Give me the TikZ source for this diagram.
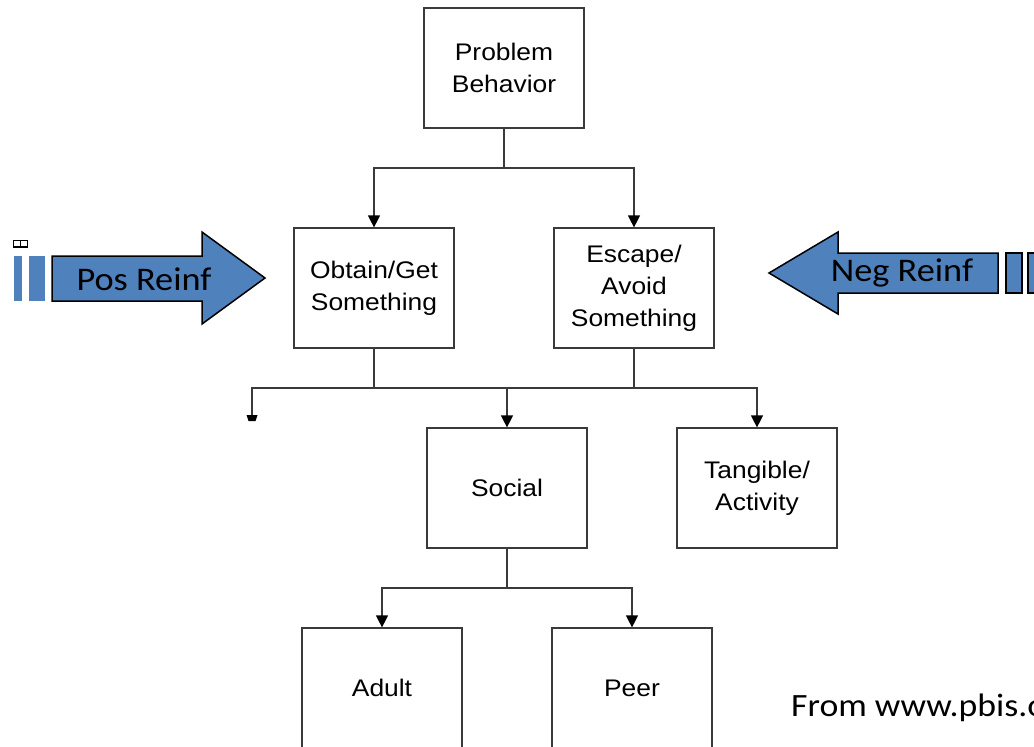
\documentclass[tikz,border=0pt]{standalone}
\usepackage{fontspec}
\setmainfont[FakeStretch=1.1]{Liberation Sans}
\newfontfamily\calib[FakeStretch=1.1]{Carlito}
\usetikzlibrary{arrows.meta}
\definecolor{boxgray}{HTML}{3A3A3A}
\definecolor{linegray}{HTML}{3A3A3A}
\definecolor{reinfblue}{HTML}{4F81BD}
\tikzset{
  box/.style={draw=boxgray, line width=1.2pt, minimum width=160pt, minimum height=120pt,
    inner sep=0pt, align=center, font=\fontsize{24}{32}\selectfont},
  conn/.style={draw=linegray, line width=1.2pt},
  arr/.style={conn, -{Triangle[width=12pt,length=12pt,color=black]}},
  blockarrow/.style={fill=reinfblue, draw=black, line width=1.5pt, line join=miter},
  bar/.style={fill=reinfblue},
  reinf/.style={font=\calib\fontsize{33}{40}\selectfont, inner sep=0pt},
}
\begin{document}
\begin{tikzpicture}[x=1pt,y=-1pt]
\useasboundingbox (0,0) rectangle (1034,747);
\clip (0,0) rectangle (1034,747);
\fill[white] (0,0) rectangle (1034,747);

% boxes
\node[box] (pb)  at (504,68)  {Problem\\Behavior};
\node[box] (obt) at (374,288) {Obtain/Get\\Something};
\node[box] (esc) at (634,288) {Escape/\\Avoid\\Something};
\node[box] (soc) at (507,488) {Social};
\node[box] (tan) at (757,488) {Tangible/\\Activity};
\node[box] (adu) at (382,688) {Adult};
\node[box] (pee) at (632,688) {Peer};

% level 1 connectors
\coordinate (j1) at (504,168);
\draw[conn] (pb.south) -- (j1);
\draw[arr] (j1) -| (obt.north);
\draw[arr] (j1) -| (esc.north);

% level 2 connectors
\coordinate (h2) at (507,388);
\coordinate (cutl) at (252,415);
\draw[conn] (obt.south) -- (obt.south |- h2);
\draw[conn] (esc.south) -- (esc.south |- h2);
\draw[conn] (obt.south |- h2) -- (esc.south |- h2);
\draw[arr] (obt.south |- h2) -| (soc.north);
\draw[arr] (esc.south |- h2) -| (tan.north);
\draw[conn] (obt.south |- h2) -| (cutl);
\fill[black] (246.5,415) -- (257.5,415) -- (255.5,421) -- (248.5,421) -- cycle;

% level 3 connectors
\coordinate (j3) at (507,588);
\draw[conn] (soc.south) -- (j3);
\draw[arr] (j3) -| (adu.north);
\draw[arr] (j3) -| (pee.north);

% Pos Reinf arrow
\draw[blockarrow] (52,256) -- (202,256) -- (202,232) -- (265,278) -- (202,324) -- (202,301) -- (52,301) -- cycle;
\node[reinf] (pos) at (144,279) {Pos Reinf};
\fill[bar] (14,256) rectangle (22,301);
\fill[bar] (29,256) rectangle (45,301);
\draw[black, line width=1.5pt] (13.5,240.5) rectangle (27.5,247);
\draw[black, line width=1.5pt] (20.5,240.5) -- (20.5,247);

% Neg Reinf arrow
\draw[blockarrow] (998,253) -- (838,253) -- (838,232) -- (769,273) -- (838,314) -- (838,293) -- (998,293) -- cycle;
\node[reinf] (neg) at (902,273) {Neg Reinf};
\draw[blockarrow] (1006,253) rectangle (1022,293);
\draw[blockarrow] (1028,253) rectangle (1045,293);

% source
\node[font=\calib\fontsize{32.5}{38}\selectfont, anchor=base west, inner sep=0pt] (src) at (791,716) {From www.pbis.o};
\end{tikzpicture}
\end{document}
